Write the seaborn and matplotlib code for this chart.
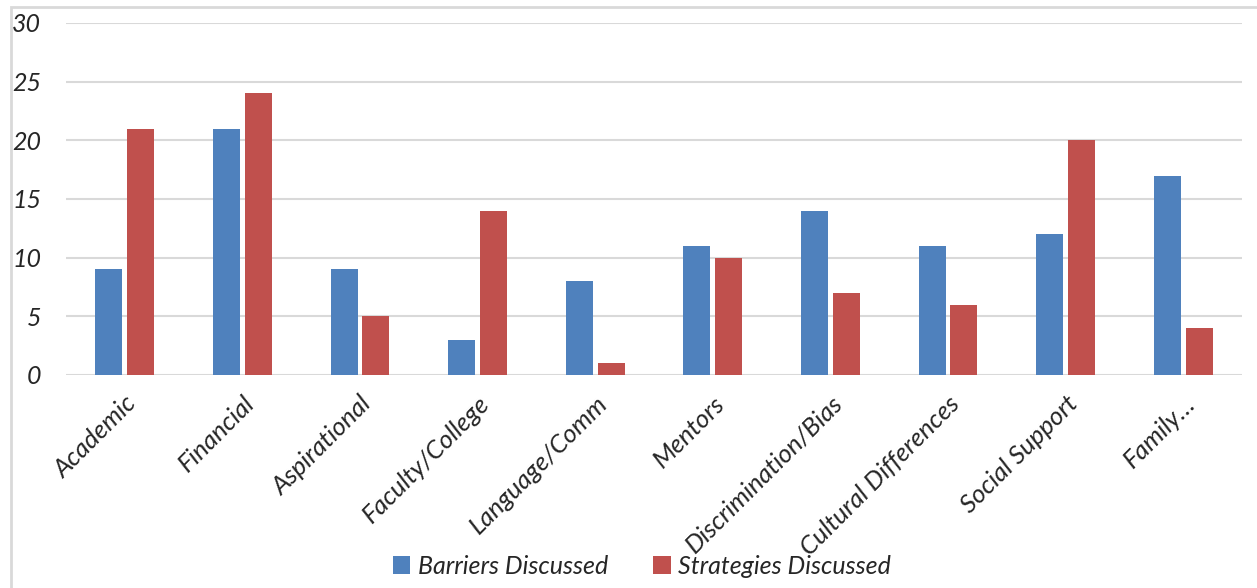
import matplotlib
matplotlib.use("Agg")
import matplotlib.pyplot as plt
import seaborn as sns
import pandas as pd
from matplotlib.patches import Rectangle

categories = ["Academic", "Financial", "Aspirational", "Faculty/College", "Language/Comm",
              "Mentors", "Discrimination/Bias", "Cultural Differences", "Social Support", "Family…"]
barriers = [9, 21, 9, 3, 8, 11, 14, 11, 12, 17]
strategies = [21, 24, 5, 14, 1, 10, 7, 6, 20, 4]
series_names = ["Barriers Discussed", "Strategies Discussed"]
yticks = [0, 5, 10, 15, 20, 25, 30]

df = pd.DataFrame({
    "category": categories * 2,
    "value": barriers + strategies,
    "series": [series_names[0]] * len(categories) + [series_names[1]] * len(categories),
})

sns.set_theme(style="white")
plt.rcParams['font.family'] = ['Lato', 'DejaVu Sans']
plt.rcParams['font.style'] = 'italic'

fig = plt.figure(figsize=(12.57, 5.88), dpi=100)
ax = fig.add_axes([66/1257, 1 - 375/588, 1176/1257, (375 - 23)/588])

palette = {series_names[0]: "#4F81BD", series_names[1]: "#C0504D"}
sns.barplot(data=df, x="category", y="value", hue="series", palette=palette,
            width=0.54, gap=0.15, ax=ax, saturation=1, legend=True, zorder=3,
            linewidth=0)

ax.set_ylim(0, 30)
ax.set_xlim(-0.5, 9.5)
ax.set_yticks(yticks)
ax.set_yticklabels([str(t) for t in yticks], fontsize=18, style='italic')
ax.set_xticks(range(len(categories)))
ax.set_xticklabels(categories, rotation=45, ha='right', rotation_mode='anchor',
                   fontsize=18.5, style='italic')
ax.tick_params(axis='y', length=0, pad=18)
ax.tick_params(axis='x', length=0, pad=12)
ax.set_xlabel("")
ax.set_ylabel("")
ax.yaxis.grid(True, color="#D9D9D9", linewidth=1.5, zorder=0)
ax.set_axisbelow(True)
for s in ["top", "right", "left", "bottom"]:
    ax.spines[s].set_visible(False)

handles, labels = ax.get_legend_handles_labels()
ax.legend_.remove()
fig.legend(handles, labels, loc="center", bbox_to_anchor=(642/1257, 1 - 566/588), ncol=2,
           frameon=False, prop={'size': 18, 'style': 'italic'}, handlelength=0.7,
           handleheight=0.7, handletextpad=0.3, columnspacing=1.8)

fig.patches.append(Rectangle((11/1257, -0.1), 1.2, 1.1 - 7/588,
                             transform=fig.transFigure, fill=False,
                             edgecolor="#D9D9D9", linewidth=2, zorder=0))

fig.savefig("out.png", dpi=100)
